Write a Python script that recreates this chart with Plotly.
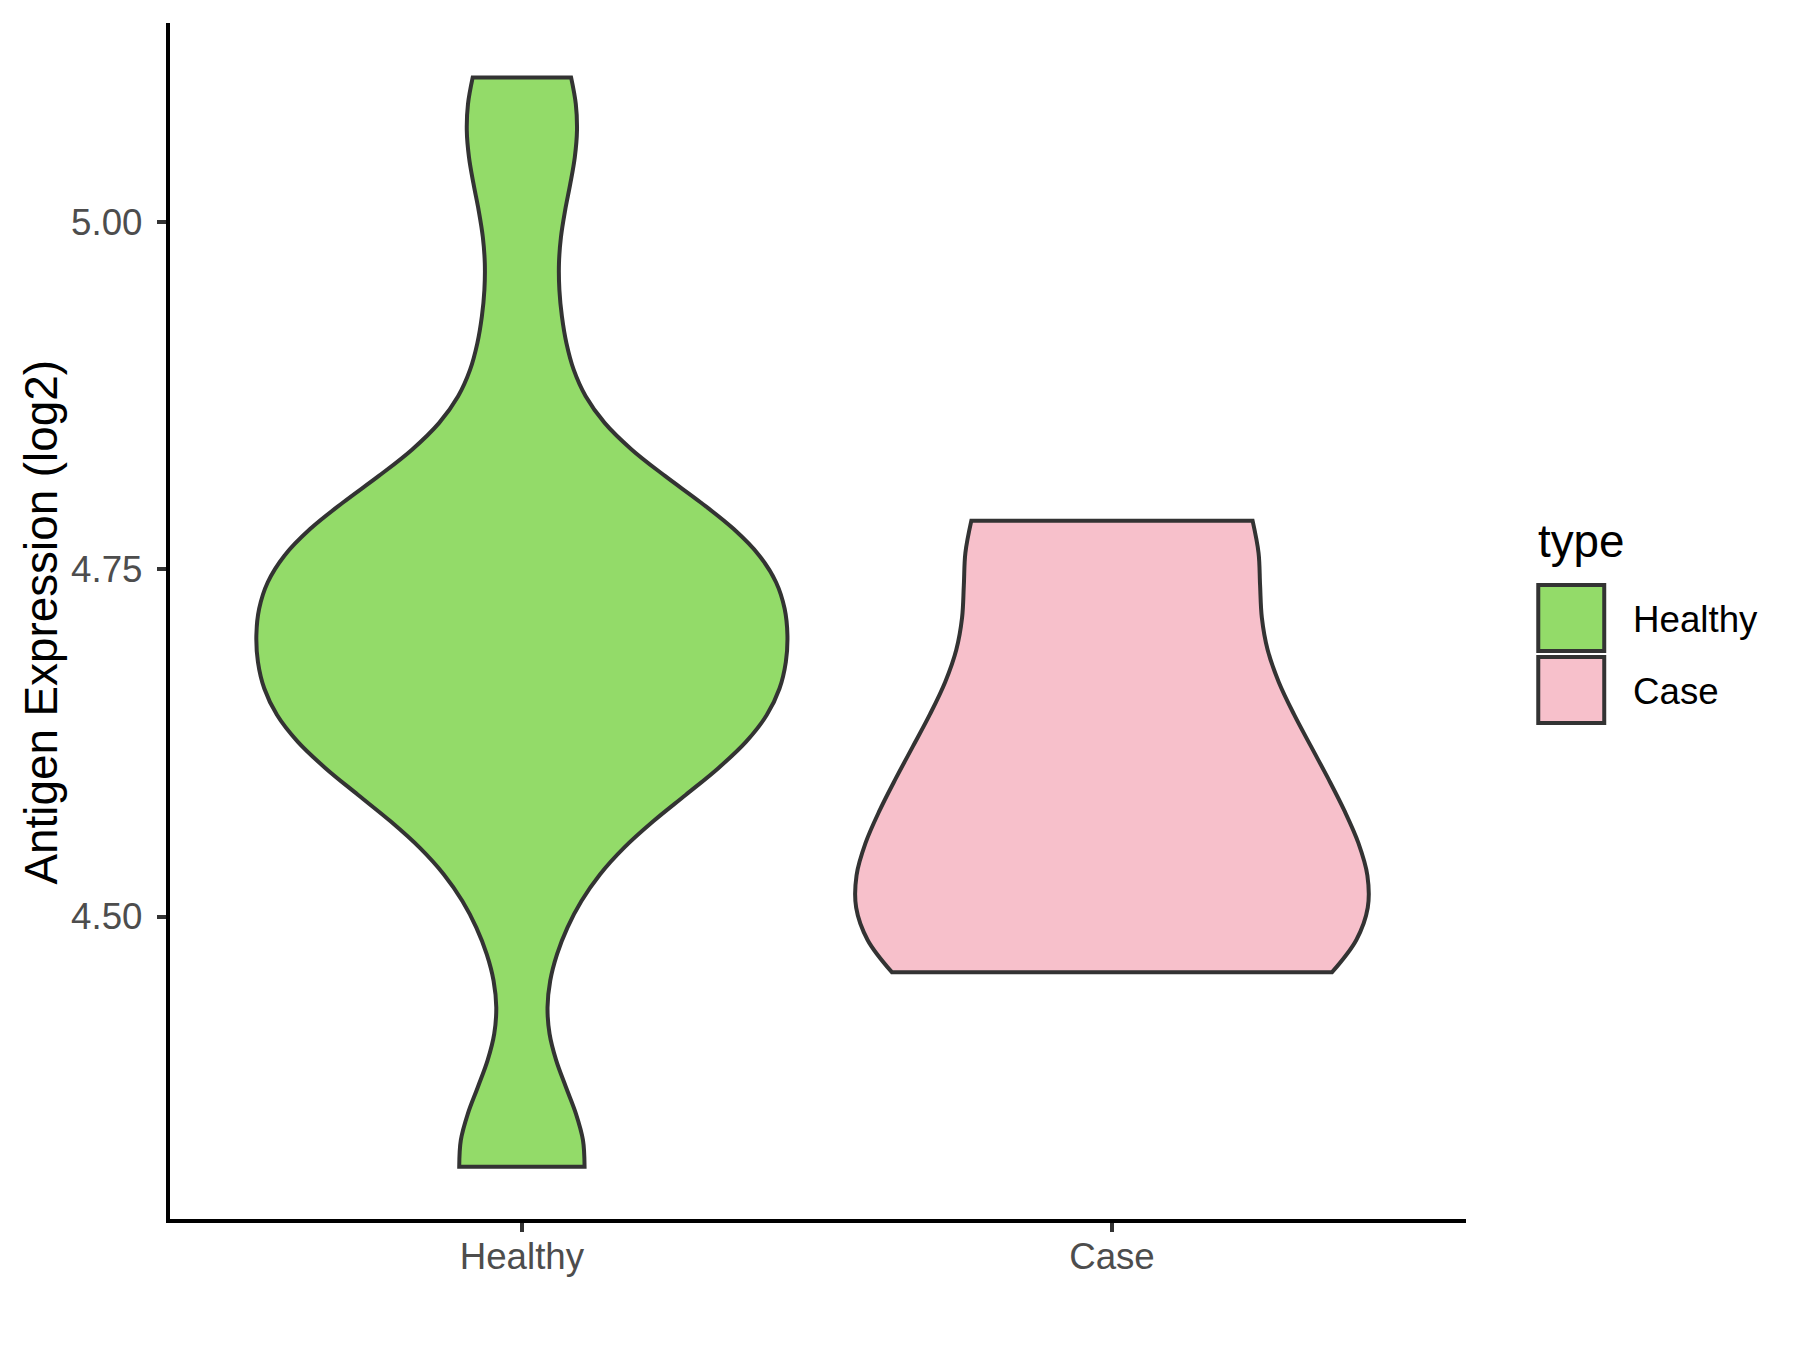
import plotly.graph_objects as go

# ---------------- data ----------------
categories = ["Healthy", "Case"]
healthy_values = [4.320, 4.328, 4.510, 4.602, 4.614, 4.620, 4.640, 4.655, 4.671, 4.679,
                  4.706, 4.741, 4.748, 4.760, 4.765, 4.778, 4.796, 4.911, 5.041, 5.104]
case_values = [4.460, 4.525, 4.631, 4.785]
healthy_bandwidth = 0.0587
case_bandwidth = 0.073
y_tick_values = [4.50, 4.75, 5.00]
y_tick_labels = ["4.50", "4.75", "5.00"]
y_title = "Antigen Expression (log2)"
legend_title = "type"

# ---------------- style ----------------
colors = {"Healthy": "#93DB69", "Case": "#F7C0CB"}
widths = {"Healthy": 0.9, "Case": 0.867}
OUTLINE = "#333333"
FONT = "Arial, Liberation Sans, Helvetica, sans-serif"
AXIS_LW = 4.3
OUT_LW = 4.0
OFF = 8  # page body margin
W, H = 1800 - 2 * OFF, 1350 - 2 * OFF

# ggplot panel in screen pixels
GL, GR, GT, GB = 167.5, 1466.2, 23.0, 1221.0
# plotly plot area (axis line drawn outside the plot area)
PL, PR, PT, PB = GL + AXIS_LW / 2, GR, GT, GB - AXIS_LW / 2

all_vals = healthy_values + case_values
lo, hi = min(all_vals), max(all_vals)
pad = 0.05 * (hi - lo)
g_lo, g_hi = lo - pad, hi + pad
px_per_y = (GB - GT) / (g_hi - g_lo)
y_range = [g_lo + (GB - PB) / px_per_y, g_hi - (PT - GT) / px_per_y]
px_per_x = (GR - GL) / 2.2
x_range = [-0.6 + (PL - GL) / px_per_x, 1.6 - (GR - PR) / px_per_x]


def px_x(x):
    return (x - PL) / (PR - PL)


def px_y(y):
    return (PB - y) / (PB - PT)


fig = go.Figure()
for cat, vals, bw in [("Healthy", healthy_values, healthy_bandwidth),
                      ("Case", case_values, case_bandwidth)]:
    fig.add_trace(go.Violin(
        x=[cat] * len(vals), y=vals, name=cat, bandwidth=bw,
        spanmode="hard", scalemode="width", width=widths[cat],
        fillcolor=colors[cat], opacity=1,
        line=dict(color=OUTLINE, width=OUT_LW),
        points=False, box_visible=False, meanline_visible=False,
        showlegend=False, hoverinfo="skip"))

tickfont = dict(family=FONT, size=36.7, color="#4D4D4D")
fig.update_layout(
    width=W, height=H,
    margin=dict(l=PL - OFF, r=W - (PR - OFF), t=PT - OFF, b=H - (PB - OFF), pad=0),
    plot_bgcolor="white", paper_bgcolor="white",
    violinmode="overlay",
    font=dict(family=FONT),
    xaxis=dict(type="category", categoryorder="array", categoryarray=categories,
               range=x_range, showline=True, linecolor="black", linewidth=AXIS_LW,
               ticks="outside", ticklen=9, tickwidth=AXIS_LW, tickcolor=OUTLINE,
               showgrid=False, zeroline=False, tickfont=tickfont,
               ticklabelstandoff=-7, fixedrange=True),
    yaxis=dict(range=y_range, tickvals=y_tick_values, ticktext=y_tick_labels,
               showline=True, linecolor="black", linewidth=AXIS_LW,
               ticks="outside", ticklen=9, tickwidth=AXIS_LW, tickcolor=OUTLINE,
               showgrid=False, zeroline=False, tickfont=tickfont,
               ticklabelstandoff=7, fixedrange=True),
)

ann = [
    dict(text=y_title, x=px_x(41), y=px_y((GT + GB) / 2), xref="paper", yref="paper",
         textangle=-90, showarrow=False, xanchor="center", yanchor="middle",
         font=dict(family=FONT, size=45.8, color="black")),
    dict(text=legend_title, x=px_x(1536), y=px_y(541), xref="paper", yref="paper",
         showarrow=False, xanchor="left", yanchor="middle",
         font=dict(family=FONT, size=45.8, color="black")),
]
shapes = []
for i, cat in enumerate(categories):
    cy = 618 + 72 * i
    shapes.append(dict(type="rect", xref="paper", yref="paper",
                       x0=px_x(1538.5), x1=px_x(1604.5), y0=px_y(cy + 33), y1=px_y(cy - 33),
                       fillcolor=colors[cat], line=dict(color=OUTLINE, width=OUT_LW)))
    ann.append(dict(text=cat, x=px_x(1631), y=px_y(cy + 1.5), xref="paper", yref="paper",
                    showarrow=False, xanchor="left", yanchor="middle",
                    font=dict(family=FONT, size=36.7, color="black")))
fig.update_layout(annotations=ann, shapes=shapes)
fig.write_html("out.html")
